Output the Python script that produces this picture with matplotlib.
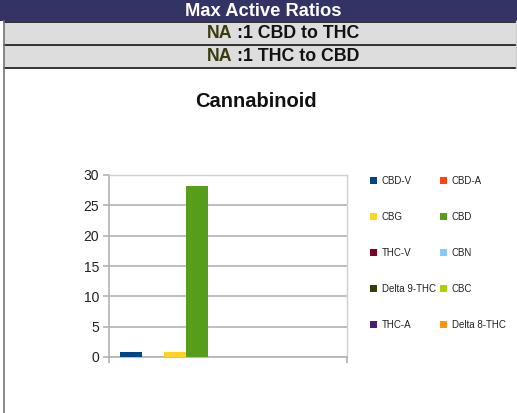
import matplotlib
matplotlib.use("Agg")
import matplotlib.pyplot as plt
from matplotlib.patches import Rectangle
from matplotlib.lines import Line2D

plt.rcParams['font.family'] = ['Liberation Sans', 'DejaVu Sans']

# data
series = ['CBD-V', 'CBD-A', 'CBG', 'CBD', 'THC-V', 'CBN',
          'Delta 9-THC', 'CBC', 'THC-A', 'Delta 8-THC']
values = [0.8, 0.0, 0.8, 28.2, 0.0, 0.0, 0.0, 0.0, 0.0, 0.0]
colors = ['#004586', '#ff420e', '#ffd320', '#579d1c', '#7e0021',
          '#83caff', '#314004', '#aecf00', '#4b1f6f', '#ff950e']
yticks = [0, 5, 10, 15, 20, 25, 30]
header = 'Max Active Ratios'
ratio_rows = [':1 CBD to THC', ':1 THC to CBD']
ratio_value = 'NA'

W, H = 517, 413
fig = plt.figure(figsize=(W / 100, H / 100), dpi=100)
fig.patch.set_facecolor('white')


def fx(px):
    return px / W


def fy(py):
    return 1 - py / H


# header table
fig.add_artist(Rectangle((0, fy(21)), 1, 21 / H, transform=fig.transFigure,
                         facecolor='#333366', edgecolor='none'))
fig.text(fx(263), fy(11), header, color='white', fontsize=13.2,
         fontweight='bold', ha='center', va='center')
for i, txt in enumerate(ratio_rows):
    top = 22 + i * 23
    fig.add_artist(Rectangle((fx(4), fy(top + 22)), 1, 22 / H,
                             transform=fig.transFigure,
                             facecolor='#dddddd', edgecolor='none'))
    fig.add_artist(Line2D([fx(4), 1], [fy(top - 0.5)] * 2,
                          transform=fig.transFigure, color='#111111', lw=1.2))
    fig.text(fx(232), fy(top + 11.5), ratio_value, color='#3b3b10',
             fontsize=12.8, fontweight='bold', ha='right', va='center')
    fig.text(fx(237), fy(top + 11.5), txt, color='#111111',
             fontsize=12.8, fontweight='bold', ha='left', va='center')
fig.add_artist(Line2D([fx(4), 1], [fy(67.5)] * 2,
                      transform=fig.transFigure, color='#111111', lw=1.2))
fig.add_artist(Line2D([fx(3.5)] * 2, [0, fy(21)],
                      transform=fig.transFigure, color='#777777', lw=1.2))
fig.add_artist(Line2D([fx(515.5)] * 2, [fy(67.5), fy(21)],
                      transform=fig.transFigure, color='#cccccc', lw=1.0))

fig.text(fx(256), fy(101.5), 'Cannabinoid', fontsize=14.5, fontweight='bold',
         ha='center', va='center', color='#111111')

# chart
ax = fig.add_axes([fx(109), fy(357), fx(238), 182 / H])
n = len(series)
bw = 0.92 / n
handles = []
for i, (name, v, c) in enumerate(zip(series, values, colors)):
    b = ax.bar(-0.454 + bw * (i + 0.5), v, width=bw, color=c, label=name,
               zorder=3)
    handles.append(b)

ax.set_xlim(-0.5, 0.5)
ax.set_ylim(0, 30)
ax.set_yticks(yticks)
ax.set_xticks([-0.5, 0.5])
ax.set_xticklabels([])
ax.yaxis.grid(True, color='#b3b3b3', lw=1.2, zorder=0)
for s in ['left', 'bottom']:
    ax.spines[s].set_color('#b3b3b3')
    ax.spines[s].set_linewidth(1.2)
for s in ['right', 'top']:
    ax.spines[s].set_color('#d0d0d0')
    ax.spines[s].set_linewidth(1.0)
ax.tick_params(axis='both', color='#b3b3b3', length=4, width=1.2,
               labelsize=10, labelcolor='#222222')
ax.tick_params(axis='y', pad=3)
ax.set_axisbelow(True)

# legend: reorder so rows read left to right
order = list(range(0, n, 2)) + list(range(1, n, 2))
fig.legend([handles[i] for i in order], [series[i] for i in order],
           loc='upper left', bbox_to_anchor=(fx(370), fy(176)),
           ncol=2, frameon=False, fontsize=7, borderpad=0,
           borderaxespad=0, handlelength=0.7, handleheight=0.7,
           handletextpad=0.5, labelspacing=2.68, columnspacing=0.45,
           labelcolor='#222222')

fig.savefig('out.png', dpi=100)
